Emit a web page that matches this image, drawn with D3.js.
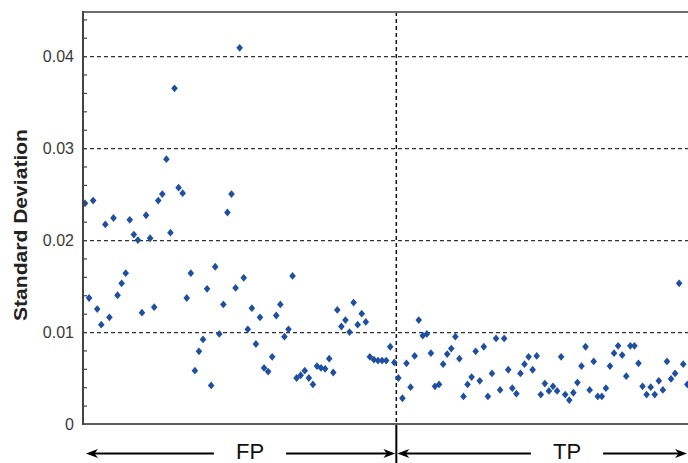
<!DOCTYPE html>
<html>
<head>
<meta charset="utf-8">
<script src="https://cdn.jsdelivr.net/npm/d3@7"></script>
<style>
  html, body { margin: 0; padding: 0; background: #fff; }
  svg { display: block; }
  text { font-family: "Liberation Sans", Arial, sans-serif; }
</style>
</head>
<body>
<svg id="chart" width="688" height="463"></svg>
<script>
// Standard deviation per sample, false positives first, then true positives
const fpValues = [
  0.0240, 0.0137, 0.0243, 0.0125, 0.0108, 0.0217, 0.0116, 0.0224, 0.0140, 0.0153,
  0.0164, 0.0222, 0.0206, 0.0200, 0.0121, 0.0227, 0.0202, 0.0127, 0.0243, 0.0250,
  0.0288, 0.0208, 0.0365, 0.0257, 0.0251, 0.0137, 0.0164, 0.0058, 0.0079, 0.0092,
  0.0147, 0.0042, 0.0171, 0.0098, 0.0130, 0.0230, 0.0250, 0.0148, 0.0409, 0.0159,
  0.0103, 0.0126, 0.0087, 0.0116, 0.0061, 0.0057, 0.0073, 0.0118, 0.0130, 0.0095,
  0.0103, 0.0161, 0.0050, 0.0053, 0.0058, 0.0050, 0.0043, 0.0063, 0.0061, 0.0060,
  0.0071, 0.0056, 0.0124, 0.0106, 0.0113, 0.0100, 0.0132, 0.0108, 0.0120, 0.0111,
  0.0073, 0.0070, 0.0069, 0.0069, 0.0069, 0.0084, 0.0067
];
const tpValues = [
  0.0050, 0.0028, 0.0066, 0.0040, 0.0074, 0.0113, 0.0096, 0.0098, 0.0077, 0.0041,
  0.0043, 0.0065, 0.0076, 0.0082, 0.0095, 0.0071, 0.0030, 0.0043, 0.0051, 0.0079,
  0.0047, 0.0084, 0.0030, 0.0055, 0.0093, 0.0037, 0.0093, 0.0059, 0.0039, 0.0033,
  0.0055, 0.0065, 0.0073, 0.0059, 0.0074, 0.0032, 0.0044, 0.0036, 0.0041, 0.0036,
  0.0073, 0.0032, 0.0026, 0.0034, 0.0045, 0.0063, 0.0084, 0.0037, 0.0068, 0.0030,
  0.0030, 0.0039, 0.0063, 0.0077, 0.0085, 0.0075, 0.0052, 0.0085, 0.0085, 0.0066,
  0.0041, 0.0032, 0.0040, 0.0032, 0.0047, 0.0037, 0.0068, 0.0049, 0.0055, 0.0153,
  0.0065, 0.0043
];
const groupLabels = ["FP", "TP"];
const yTicks = [0, 0.01, 0.02, 0.03, 0.04];
const yTickLabels = ["0", "0.01", "0.02", "0.03", "0.04"];
const yMinorStep = 0.002;
const yMax = 0.0448;
const yTitle = "Standard Deviation";

const points = fpValues.map((v, i) => ({ i, v, g: 0 }))
  .concat(tpValues.map((v, i) => ({ i: fpValues.length + i, v, g: 1 })));
const nTotal = points.length;

const W = 688, H = 463;
const plot = { left: 83, right: 700, top: 12, bottom: 424 };

const svg = d3.select("#chart");

const x = d3.scaleLinear().domain([0, nTotal - 1]).range([85, 687.3]);
const y = d3.scaleLinear().domain([0, yMax]).range([plot.bottom, plot.top]);

// dashed horizontal gridlines
const grid = svg.append("g")
  .attr("transform", `translate(${plot.left},0)`)
  .call(d3.axisRight(y).tickValues(yTicks.filter(d => d > 0)).tickSize(plot.right - plot.left).tickFormat(""));
grid.select(".domain").remove();
grid.selectAll("line")
  .attr("stroke", "#333").attr("stroke-width", 1.2).attr("stroke-dasharray", "4,3");

// boundary between FP and TP samples
const xDiv = (x(fpValues.length - 1) + x(fpValues.length)) / 2;
svg.append("line")
  .attr("x1", xDiv).attr("x2", xDiv).attr("y1", plot.top).attr("y2", plot.bottom)
  .attr("stroke", "#111").attr("stroke-width", 1.5).attr("stroke-dasharray", "4,3");
svg.append("line")
  .attr("x1", xDiv).attr("x2", xDiv).attr("y1", plot.bottom).attr("y2", H)
  .attr("stroke", "#000").attr("stroke-width", 2);

// diamond markers
const diamond = {
  draw(ctx, size) {
    const hw = 3.3, hh = 3.9;
    ctx.moveTo(0, -hh); ctx.lineTo(hw, 0); ctx.lineTo(0, hh); ctx.lineTo(-hw, 0); ctx.closePath();
  }
};
svg.append("g").selectAll("path")
  .data(points)
  .join("path")
  .attr("transform", d => `translate(${x(d.i)},${y(d.v)})`)
  .attr("d", d3.symbol(diamond))
  .attr("fill", "#1f4f9f");

// frame
svg.append("line").attr("x1", plot.left).attr("x2", W).attr("y1", plot.top).attr("y2", plot.top)
  .attr("stroke", "#6e6e6e").attr("stroke-width", 2);
svg.append("line").attr("x1", plot.left).attr("x2", W).attr("y1", plot.bottom).attr("y2", plot.bottom)
  .attr("stroke", "#5e5e5e").attr("stroke-width", 2);
svg.append("line").attr("x1", plot.left).attr("x2", plot.left).attr("y1", plot.top - 1).attr("y2", plot.bottom + 1)
  .attr("stroke", "#444").attr("stroke-width", 2);

// minor ticks, pointing into the plot
const minorTicks = d3.range(0, yMax, yMinorStep).filter(d => d > 0);
const minor = svg.append("g")
  .attr("transform", `translate(${plot.left},0)`)
  .call(d3.axisRight(y).tickValues(minorTicks).tickSize(4).tickFormat(""));
minor.select(".domain").remove();
minor.selectAll("line").attr("stroke", "#444").attr("stroke-width", 1.2);

// tick labels
const yAxis = svg.append("g")
  .attr("transform", `translate(${plot.left},0)`)
  .call(d3.axisLeft(y).tickValues(yTicks).tickSize(0).tickPadding(9)
    .tickFormat((d, k) => yTickLabels[k]));
yAxis.select(".domain").remove();
yAxis.selectAll("text")
  .attr("font-family", "Liberation Sans, Arial, sans-serif")
  .attr("font-size", 16).attr("fill", "#3a3a3a");

// axis title
svg.append("text")
  .attr("transform", `translate(27,${(plot.top + plot.bottom) / 2 + 7}) rotate(-90)`)
  .attr("text-anchor", "middle")
  .attr("font-size", 19).attr("font-weight", "bold").attr("fill", "#222")
  .attr("textLength", 192).attr("lengthAdjust", "spacingAndGlyphs")
  .text(yTitle);

// group annotations with arrows
function arrowHead(tipX, yy, dir) {
  // dir = -1 points left, +1 points right
  const L = 12, hw = 4.5, notch = 8.5;
  return `M${tipX},${yy} L${tipX - dir * L},${yy - hw} L${tipX - dir * notch},${yy} L${tipX - dir * L},${yy + hw} Z`;
}
const arrowY = 453.5;
const gap = 22;
const groupSpans = [
  { label: groupLabels[0], from: x(0), to: xDiv, center: 250 },
  { label: groupLabels[1], from: xDiv, to: W, center: 567 }
];
const ann = svg.append("g");
groupSpans.forEach(s => {
  const t = ann.append("text")
    .attr("x", s.center).attr("y", 459)
    .attr("text-anchor", "middle")
    .attr("font-size", 22).attr("fill", "#111")
    .text(s.label);
  const bb = t.node().getBBox();
  ann.append("line")
    .attr("x1", s.from + 6).attr("x2", bb.x - gap).attr("y1", arrowY).attr("y2", arrowY)
    .attr("stroke", "#000").attr("stroke-width", 2);
  ann.append("line")
    .attr("x1", bb.x + bb.width + gap).attr("x2", s.to - 6).attr("y1", arrowY).attr("y2", arrowY)
    .attr("stroke", "#000").attr("stroke-width", 2);
  ann.append("path").attr("d", arrowHead(s.from + 1, arrowY, -1)).attr("fill", "#000");
  ann.append("path").attr("d", arrowHead(s.to - 1, arrowY, 1)).attr("fill", "#000");
});
</script>
</body>
</html>
